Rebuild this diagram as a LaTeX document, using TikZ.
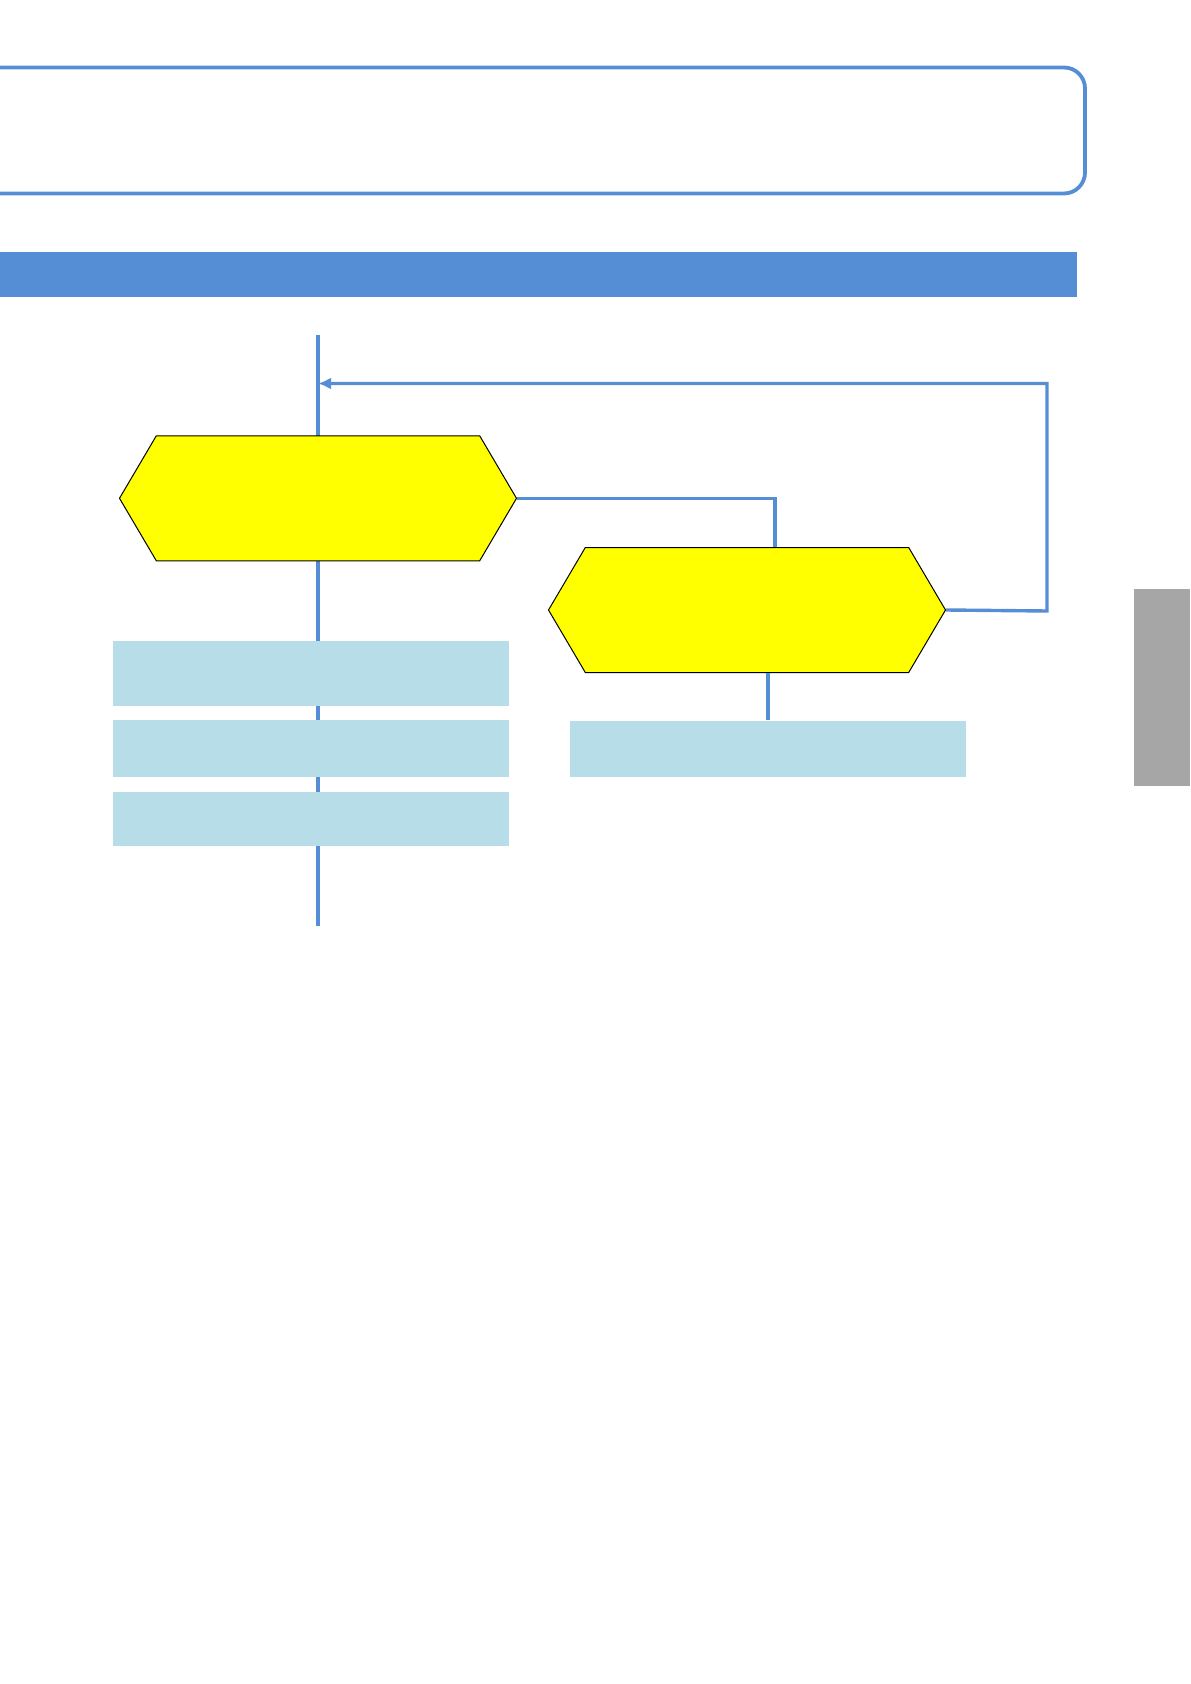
\documentclass[tikz,border=0pt]{standalone}
\usepackage[svgnames]{xcolor}
\usetikzlibrary{positioning}
\usetikzlibrary{arrows.meta}
\usetikzlibrary{shapes.symbols}
\definecolor{flowblue}{HTML}{558ED5}
\definecolor{boxblue}{HTML}{B7DEE8}
\definecolor{tabgray}{HTML}{A6A6A6}
\definecolor{hexyellow}{HTML}{FFFF00}
\tikzset{flow/.style = {draw=flowblue, line width=1.7pt}}
\tikzset{hexbox/.style = {signal, signal to=east and west, signal pointer angle=119,
                          draw=black, line width=0.5pt, fill=hexyellow,
                          minimum width=198.5pt, minimum height=62.5pt, inner sep=0}}
\tikzset{stepbox/.style = {fill=boxblue, minimum width=198pt, inner sep=0}}

\begin{document}
\begin{tikzpicture}[x=0.5pt, y=-0.5pt]
      \useasboundingbox (0,0) rectangle (1190,1684);
      % Header frame and bar
      \draw[flowblue, line width=1.9pt, rounded corners=10.5pt] (-30,67.5) rectangle (1085,193.5);
      \fill[flowblue] (0,252.5) rectangle (1077,297.5);
      \fill[tabgray] (1134,588.5) rectangle (1190,786);

      % Main line
      \coordinate (top) at (318,335);
      \coordinate (bottom) at (318,926);
      \coordinate (loopend) at (318,383.5);
      \draw[flow] (top) -- (bottom);

      % Decisions
      \node[hexbox] (hexA) at (318,498.3) {};
      \node[hexbox] (hexB) at (747,610) {};

      % Steps
      \node[stepbox, minimum height=32.3pt] (stepA) at (311,673.3) {};
      \node[stepbox, minimum height=28.5pt] (stepB) at (311,748) {};
      \node[stepbox, minimum height=27.4pt] (stepC) at (311,819) {};
      \node[stepbox, minimum height=27.9pt] (stepD) at (768,748.6) {};

      % Connectors
      \draw[flow] (hexA.east) -| ([xshift=14pt]hexB.north);
      \draw[flow] (hexB.south -| stepD.north) -- (stepD.north);
      \coordinate (loopcorner) at (1047,611);
      \draw[flow, -{Latex[length=6.5pt,width=6pt]}] (hexB.east) -- (loopcorner) |- (loopend);
    \end{tikzpicture}
\end{document}
